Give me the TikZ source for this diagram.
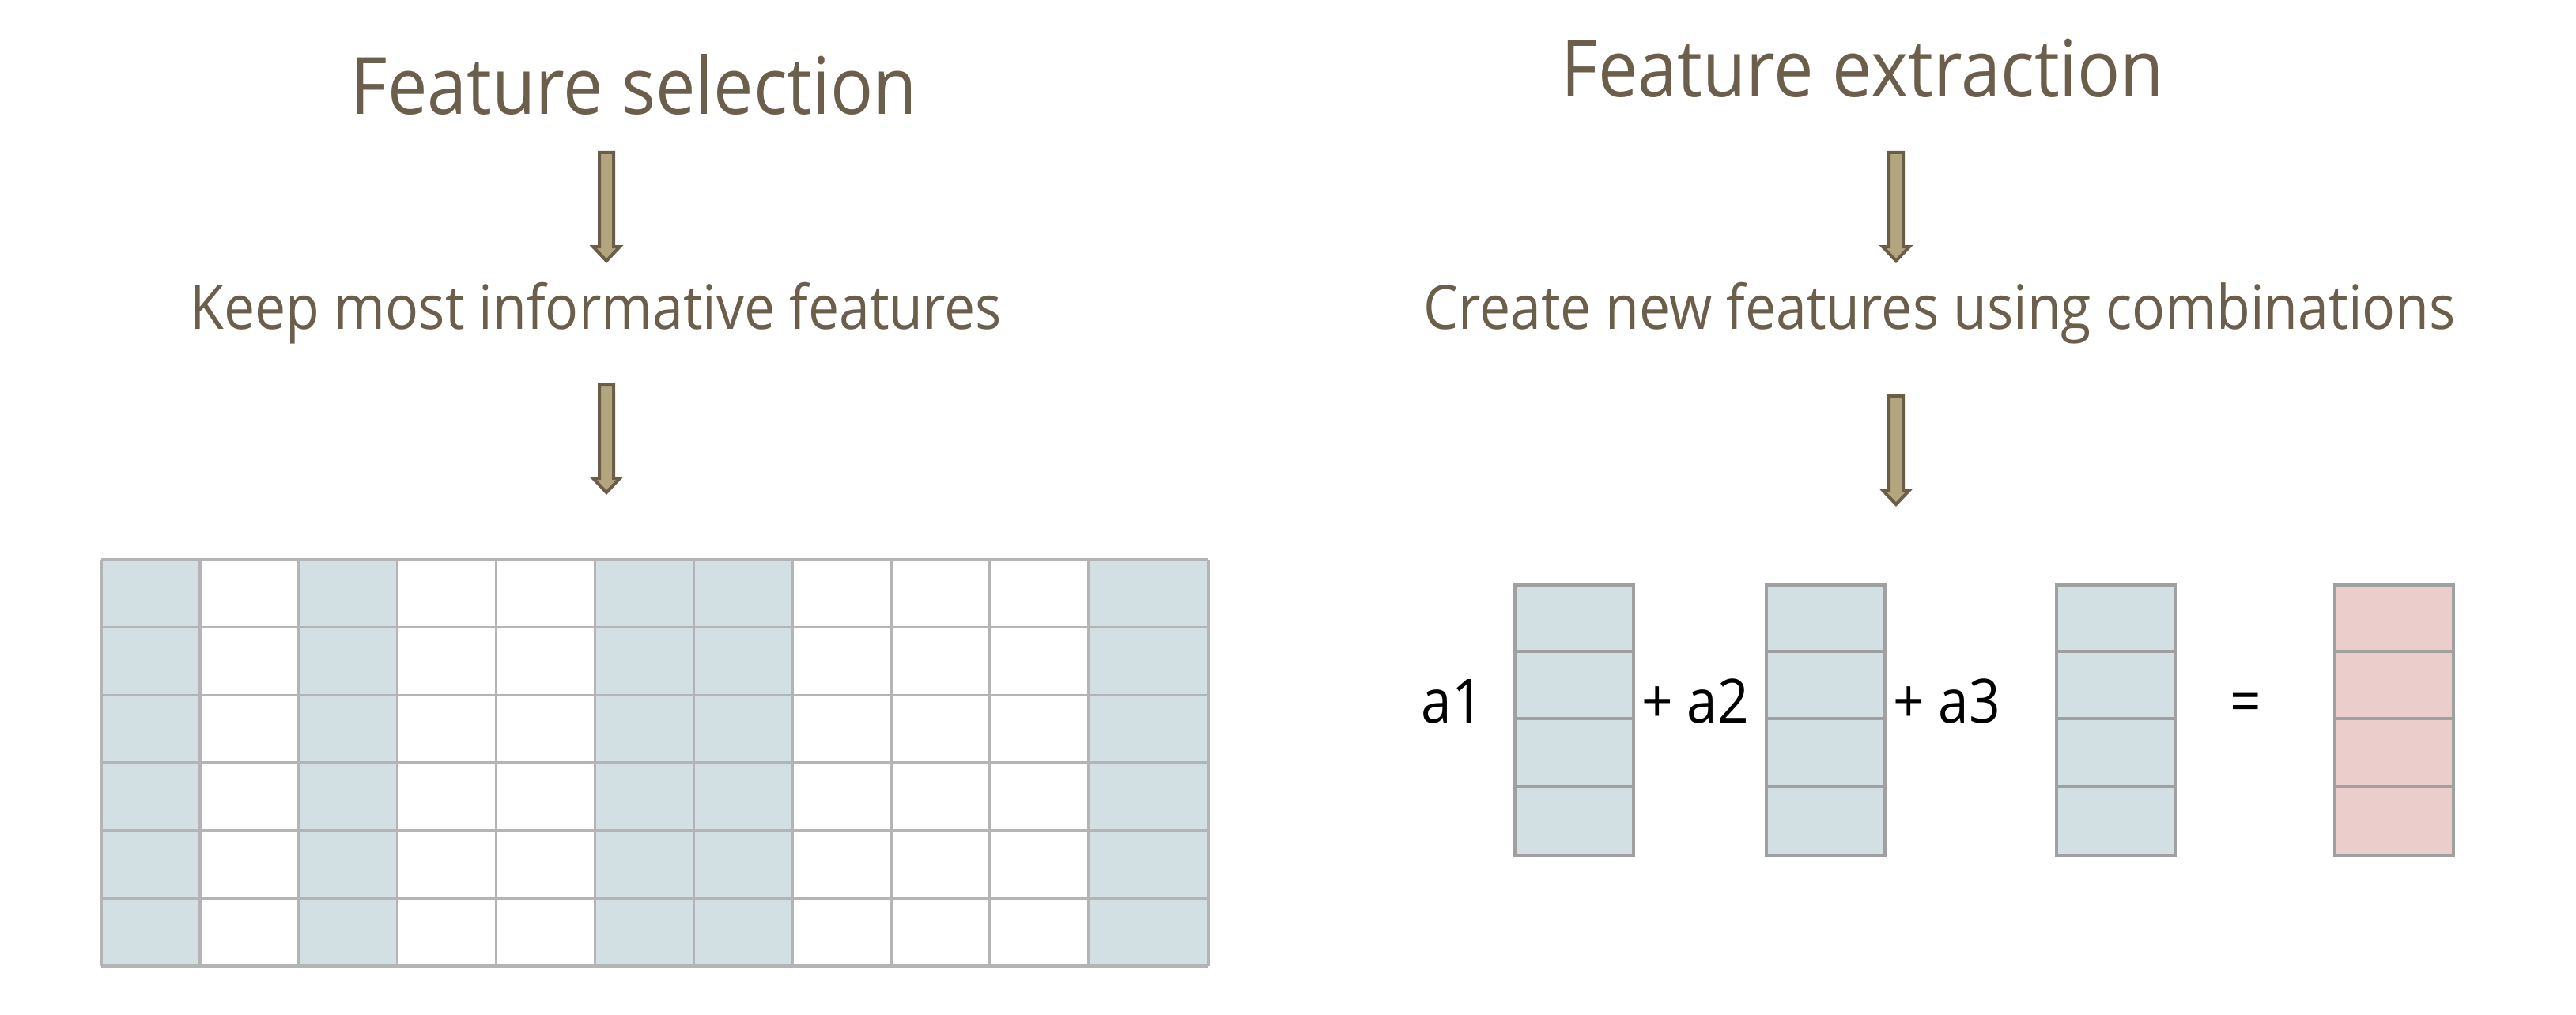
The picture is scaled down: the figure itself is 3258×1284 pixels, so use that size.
\documentclass[tikz,border=0pt]{standalone}
\usepackage{fontspec}
\setmainfont{Open Sans}[FakeStretch=0.9]
\definecolor{txtbrown}{HTML}{6B5E4A}
\definecolor{arrfill}{HTML}{B3A67F}
\definecolor{arrline}{HTML}{6B5E48}
\definecolor{cellblue}{HTML}{D2DFE3}
\definecolor{cellpink}{HTML}{EBCDCC}
\definecolor{gridgray}{HTML}{B4B4B4}
\definecolor{colgray}{HTML}{A0A0A0}
\tikzset{
  title/.style={text=txtbrown, font=\fontsize{100}{110}\selectfont, anchor=base, inner sep=0pt},
  subtitle/.style={text=txtbrown, font=\fontsize{77.5}{85}\selectfont, anchor=base, inner sep=0pt},
  coef/.style={text=black, font=\fontsize{77}{85}\selectfont, anchor=base, inner sep=0pt},
  blockarrow/.pic={
    \filldraw[fill=arrfill, draw=arrline, line width=4pt, line join=miter]
      (-9,0) -- (9,0) -- (9,119) -- (17,119) -- (0,137) -- (-17,119) -- (-9,119) -- cycle;
  },
  vcol/.style={line width=4pt, draw=colgray},
}
\begin{document}
\begin{tikzpicture}[x=1pt, y=-1pt]
\useasboundingbox (0,0) rectangle (3258,1284);

% titles and subtitles
\node[title] (t1) at (802,145) {Feature selection};
\node[title] (t2) at (2356,123) {Feature extraction};
\node[subtitle] (s1) at (754,416) {Keep most informative features};
\node[subtitle] (s2) at (2453,416) {Create new features using combinations};

% arrows
\pic at (767,193) {blockarrow};
\pic at (767,486) {blockarrow};
\pic at (2398,193) {blockarrow};
\pic at (2398,501) {blockarrow};

% left grid
\foreach \c in {0,2,5,6} {
  \fill[cellblue] ({128+124.9*\c},708) rectangle ({128+124.9*(\c+1)},1222);
}
\fill[cellblue] (1377,708) rectangle (1528,1222);
\foreach \c in {0,...,10} {
  \draw[gridgray, line width=3.5pt] ({128+124.9*\c},708) -- ({128+124.9*\c},1222);
}
\draw[gridgray, line width=3.5pt] (1528,708) -- (1528,1222);
\foreach \r in {0,...,6} {
  \draw[gridgray, line width=3.5pt] (128,{708+85.67*\r}) -- (1528,{708+85.67*\r});
}

% right columns
\foreach \x/\f/\n in {1914/cellblue/c1, 2232/cellblue/c2, 2599/cellblue/c3, 2951/cellpink/c4} {
  \node[draw=colgray, fill=\f, line width=4pt, minimum width=150pt, minimum height=342pt, inner sep=0pt, anchor=north west] (\n) at (\x,738) {};
  \foreach \r in {1,2,3} {
    \draw[vcol] (\x,{738+85.5*\r}) -- ({\x+150},{738+85.5*\r});
  }
}

% coefficients
\node[coef] (a1) at (1837,914) {a1};
\node[coef] (a2) at (2144,914) {+ a2};
\node[coef] (a3) at (2462,914) {+ a3};
\node[coef] (eq) at (2840,914) {=};
\end{tikzpicture}
\end{document}
